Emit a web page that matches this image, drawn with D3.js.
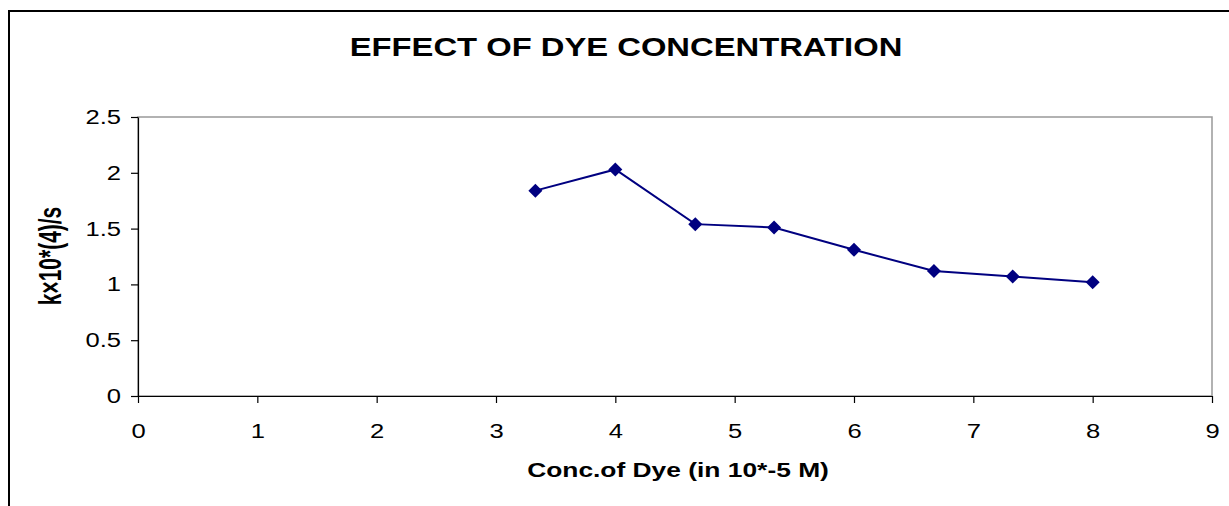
<!DOCTYPE html>
<html>
<head>
<meta charset="utf-8">
<script src="https://cdn.jsdelivr.net/npm/d3@7"></script>
<style>
  body { margin: 0; background: #fff; }
  svg { display: block; font-family: Arial, 'Liberation Sans', sans-serif; }
</style>
</head>
<body>
<div class="chart-dye"></div>
<script>
const concentration = [3.33, 4, 4.67, 5.33, 6, 6.67, 7.33, 8]
const rateConstant = [1.84, 2.03, 1.54, 1.51, 1.31, 1.12, 1.07, 1.02]
const xTicks = [0, 1, 2, 3, 4, 5, 6, 7, 8, 9]
const yTicks = [0, 0.5, 1, 1.5, 2, 2.5]

const chartTitle = 'EFFECT OF DYE CONCENTRATION'
const xTitle = 'Conc.of Dye (in 10*-5 M)'
const yTitle = 'k×10*(4)/s'

// the original picture is stretched sideways, so text gets widened too
const stretch = 1.28

function lineChart () {
  const w = 1229
  const h = 506
  const margin = { top: 117, right: 17, bottom: 110, left: 138 }
  const navy = '#000080'

  const svg = d3.select('.chart-dye')
    .append('svg')
    .attr('width', w)
    .attr('height', h)

  svg.append('rect')
    .attr('x', 9)
    .attr('y', 11)
    .attr('width', 1400)
    .attr('height', 700)
    .attr('fill', 'none')
    .attr('stroke', '#000')
    .attr('stroke-width', 2)

  const x = d3.scaleLinear()
    .domain([0, 9])
    .range([margin.left, w - margin.right])

  const y = d3.scaleLinear()
    .domain([0, 2.5])
    .range([h - margin.bottom, margin.top])

  // plot area frame (grey on top and right)
  svg.append('rect')
    .attr('x', x(0))
    .attr('y', y(2.5))
    .attr('width', x(9) - x(0))
    .attr('height', y(0) - y(2.5))
    .attr('fill', 'none')
    .attr('stroke', '#999')
    .attr('stroke-width', 1.5)

  const xAxis = svg.append('g')
    .attr('transform', `translate(0,${y(0)})`)
    .call(d3.axisBottom(x).tickValues(xTicks).tickSize(7).tickSizeOuter(0).tickFormat(d3.format('d')))

  xAxis.selectAll('text')
    .attr('y', 28)
    .attr('dy', '0.71em')
    .style('font-size', '20px')
    .attr('transform', `scale(${stretch},1)`)

  const yAxis = svg.append('g')
    .attr('transform', `translate(${x(0)},0)`)
    .call(d3.axisLeft(y).tickValues(yTicks).tickSize(7).tickSizeOuter(0).tickFormat(d => d))

  yAxis.selectAll('text')
    .attr('x', -17 / stretch)
    .style('font-size', '20px')
    .attr('transform', `scale(${stretch},1)`)

  svg.selectAll('.domain, .tick line')
    .attr('stroke', '#000')
    .attr('stroke-width', 1.2)

  svg.append('text')
    .attr('transform', `translate(${626},${56}) scale(${stretch},1)`)
    .attr('text-anchor', 'middle')
    .style('font-size', '25.6px')
    .style('font-weight', 'bold')
    .text(chartTitle)

  svg.append('text')
    .attr('transform', `translate(${678},${477}) scale(${stretch},1)`)
    .attr('text-anchor', 'middle')
    .style('font-size', '20.6px')
    .style('font-weight', 'bold')
    .text(xTitle)

  svg.append('text')
    .attr('transform', `translate(${61},${256}) rotate(-90) scale(1,1.45)`)
    .attr('text-anchor', 'middle')
    .style('font-size', '21px')
    .style('font-weight', 'bold')
    .text(yTitle)

  const dataz = concentration.map((c, i) => ({ c, k: rateConstant[i] }))

  const line = d3.line()
    .x(d => x(d.c))
    .y(d => y(d.k))

  svg.append('path')
    .datum(dataz)
    .attr('d', line)
    .attr('fill', 'none')
    .attr('stroke', navy)
    .attr('stroke-width', 2)

  svg.selectAll('.marker')
    .data(dataz)
    .enter()
    .append('path')
    .attr('class', 'marker')
    .attr('d', d3.symbol().type(d3.symbolDiamond2).size(125))
    .attr('transform', d => `translate(${x(d.c)},${y(d.k)})`)
    .attr('fill', navy)
}

lineChart()
</script>
</body>
</html>
